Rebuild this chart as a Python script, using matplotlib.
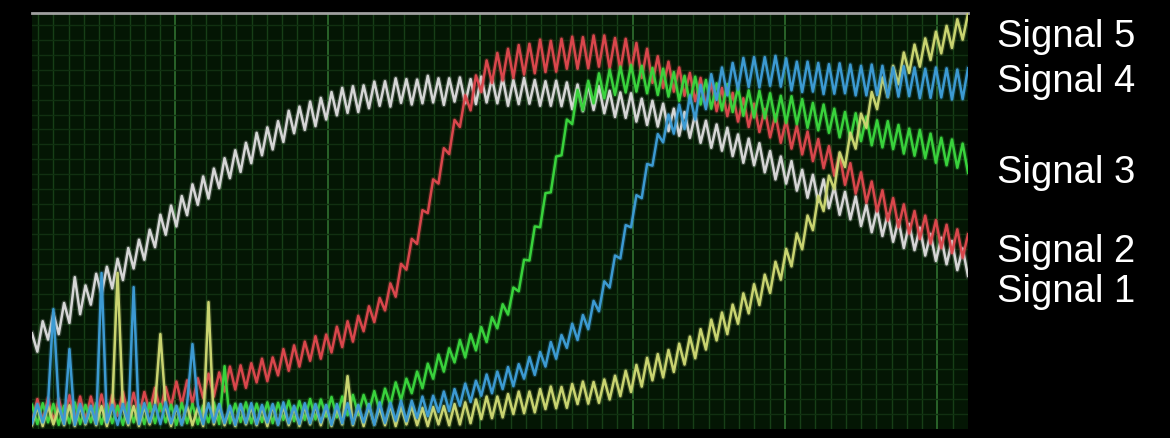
import numpy as np
import matplotlib
matplotlib.use("Agg")
import matplotlib.pyplot as plt

# sampling of the trace (time axis in grid units, 10 units per major division)
T0 = 0.59
DT = 0.351

signal_1 = [
    23.0, 18.6, 25.9, 21.5, 27.8, 22.8, 30.3, 25.5, 36.5, 27.6,
    34.5, 29.9, 37.3, 32.4, 39.0, 33.8, 40.9, 35.8, 43.5, 38.6,
    45.5, 40.7, 47.9, 43.7, 51.5, 46.7, 53.7, 48.7, 56.0, 51.4,
    58.8, 53.9, 60.7, 55.4, 62.6, 57.9, 65.1, 60.3, 67.0, 61.8,
    68.8, 63.9, 71.2, 65.8, 72.5, 67.2, 74.0, 69.0, 76.5, 71.1,
    77.5, 71.9, 78.7, 72.8, 79.6, 74.4, 81.0, 75.4, 82.0, 76.0,
    82.4, 76.2, 82.6, 77.1, 83.5, 77.7, 83.6, 77.5, 84.3, 78.4,
    84.1, 78.0, 84.0, 78.3, 84.9, 78.5, 84.3, 77.9, 84.3, 78.7,
    84.5, 78.3, 84.1, 78.1, 84.7, 78.5, 84.3, 78.3, 84.4, 77.7,
    83.9, 78.1, 84.4, 78.2, 83.9, 77.7, 83.6, 77.7, 83.7, 77.6,
    83.3, 76.9, 82.8, 76.4, 82.7, 76.7, 82.4, 75.9, 81.3, 75.0,
    80.9, 74.8, 80.7, 73.9, 79.4, 73.1, 78.9, 72.7, 78.2, 71.6,
    77.0, 70.5, 76.2, 70.0, 75.7, 68.8, 74.1, 67.6, 73.2, 66.9,
    72.4, 65.6, 70.8, 64.0, 69.8, 63.4, 68.7, 61.7, 66.8, 60.0,
    65.5, 59.0, 64.4, 57.3, 62.3, 55.6, 61.1, 54.6, 60.0, 53.1,
    58.2, 51.5, 57.0, 50.4, 55.9, 48.8, 53.9, 47.3, 52.8, 46.4,
    51.7, 45.0, 50.2, 43.5, 49.3, 43.0, 48.4, 41.7, 46.9, 40.4,
    46.0, 39.6, 45.2, 38.2, 43.4, 36.8,
]

signal_2 = [
    1.7, 7.2, 2.1, 7.5, 1.8, 7.3, 2.4, 8.1, 2.3, 7.8,
    2.1, 7.8, 2.9, 8.3, 2.6, 8.1, 3.2, 8.9, 3.2, 8.7,
    3.0, 8.9, 4.2, 9.9, 4.4, 10.1, 5.4, 11.4, 5.9, 11.7,
    6.2, 12.2, 7.5, 13.3, 7.8, 13.6, 9.0, 15.0, 9.5, 15.3,
    9.9, 15.8, 11.2, 16.9, 11.5, 17.2, 12.9, 19.2, 14.0, 20.1,
    15.0, 21.0, 16.4, 22.3, 16.9, 22.7, 18.4, 24.6, 19.7, 25.9,
    21.0, 27.2, 23.5, 29.5, 25.7, 31.5, 28.5, 35.0, 31.8, 39.7,
    38.3, 45.7, 44.5, 52.6, 51.9, 60.0, 59.0, 67.5, 66.1, 74.3,
    72.6, 80.2, 76.6, 85.0, 81.0, 88.6, 83.2, 90.4, 83.8, 91.4,
    84.4, 92.3, 85.2, 92.6, 85.5, 93.6, 85.8, 93.3, 85.9, 93.8,
    86.6, 94.3, 86.6, 94.2, 86.7, 94.6, 87.1, 94.6, 86.7, 94.0,
    86.3, 93.8, 86.0, 92.8, 84.4, 91.4, 83.2, 89.6, 82.0, 88.3,
    81.1, 86.9, 80.1, 85.6, 78.8, 84.4, 77.6, 83.2, 76.4, 82.0,
    75.2, 80.8, 73.9, 79.5, 72.6, 78.2, 71.4, 76.9, 70.1, 75.6,
    68.8, 74.3, 67.4, 72.9, 66.0, 71.5, 64.4, 69.7, 62.7, 68.0,
    60.9, 66.0, 58.7, 63.9, 56.6, 61.7, 54.4, 59.5, 52.3, 57.4,
    50.1, 55.5, 48.5, 54.0, 47.0, 52.4, 45.7, 51.3, 44.6, 50.2,
    43.5, 49.1, 42.3, 48.0, 41.2, 46.8,
]

signal_3 = [
    5.8, 1.2, 6.2, 1.6, 6.0, 1.0, 5.6, 1.4, 6.4, 1.2,
    5.8, 1.6, 6.2, 1.2, 6.0, 1.4, 5.6, 1.0, 6.4, 1.6,
    5.8, 1.2, 6.2, 1.4, 6.0, 1.6, 5.8, 1.0, 6.2, 1.4,
    6.0, 1.2, 5.6, 1.6, 6.4, 1.2, 15.1, 1.4, 6.1, 1.7,
    6.4, 1.4, 6.1, 1.7, 6.4, 1.4, 6.3, 2.2, 6.8, 1.9,
    6.7, 2.2, 7.2, 2.3, 7.1, 3.0, 7.7, 2.8, 7.8, 3.3,
    8.2, 3.4, 8.2, 4.3, 9.1, 4.3, 9.7, 5.8, 11.2, 6.9,
    12.1, 8.6, 13.8, 9.8, 15.7, 12.1, 17.9, 13.8, 19.4, 16.0,
    21.4, 17.2, 22.8, 18.9, 24.5, 20.9, 26.9, 24.2, 30.0, 27.5,
    34.0, 33.1, 40.7, 40.5, 48.7, 48.5, 56.7, 56.9, 65.5, 65.8,
    74.4, 73.3, 81.5, 76.6, 83.7, 78.3, 85.5, 79.5, 86.4, 80.3,
    87.1, 80.9, 87.5, 81.1, 87.3, 80.7, 86.8, 80.3, 86.6, 79.9,
    85.8, 78.9, 84.9, 78.4, 84.7, 78.0, 83.9, 77.0, 83.1, 76.6,
    82.9, 76.2, 82.1, 75.3, 81.4, 74.9, 81.3, 74.7, 80.7, 73.9,
    80.1, 73.6, 80.0, 73.3, 79.3, 72.4, 78.4, 71.8, 78.0, 71.2,
    77.0, 70.1, 76.2, 69.6, 75.9, 69.2, 75.1, 68.2, 74.2, 67.7,
    74.0, 67.3, 73.1, 66.2, 72.2, 65.7, 71.9, 65.1, 71.0, 64.0,
    70.0, 63.4, 69.6, 62.8, 68.6, 61.6,
]

signal_4 = [
    1.4, 6.0, 1.6, 6.2, 28.8, 5.8, 1.2, 19.2, 1.0, 6.0,
    1.4, 5.6, 1.2, 37.5, 1.6, 5.8, 1.0, 6.0, 1.4, 34.1,
    1.2, 6.2, 1.6, 5.8, 1.2, 6.4, 1.4, 5.6, 1.0, 6.0,
    20.4, 5.8, 1.2, 6.2, 1.6, 6.0, 1.4, 5.6, 1.0, 6.0,
    1.4, 6.2, 1.2, 5.8, 1.6, 6.0, 1.0, 6.4, 1.4, 5.6,
    1.2, 6.2, 1.4, 6.0, 1.6, 5.8, 1.0, 6.0, 1.4, 6.2,
    1.2, 5.8, 1.6, 6.0, 1.0, 6.4, 1.5, 6.3, 2.0, 6.8,
    1.9, 6.8, 2.7, 7.8, 3.1, 8.0, 4.1, 9.0, 4.3, 9.6,
    5.6, 10.9, 6.5, 11.6, 8.0, 13.1, 8.6, 13.8, 9.6, 14.9,
    10.3, 15.6, 12.1, 17.3, 13.0, 18.5, 15.0, 20.9, 16.9, 22.6,
    19.5, 25.3, 21.4, 27.4, 24.0, 30.8, 28.3, 35.5, 34.0, 41.7,
    41.0, 49.0, 48.5, 56.2, 55.5, 63.7, 63.3, 70.9, 68.9, 75.6,
    71.0, 78.0, 72.1, 80.2, 74.4, 82.7, 76.9, 85.3, 79.1, 86.9,
    80.2, 88.0, 81.6, 89.2, 82.2, 89.4, 82.1, 89.4, 82.5, 89.7,
    82.3, 89.1, 81.4, 88.3, 81.0, 88.3, 81.1, 88.0, 80.5, 87.7,
    80.6, 87.9, 80.7, 87.6, 80.2, 87.3, 80.2, 87.6, 80.3, 87.3,
    79.8, 86.9, 79.9, 87.2, 80.0, 86.9, 79.5, 86.6, 79.6, 86.9,
    79.7, 86.7, 79.2, 86.4, 79.3, 86.7,
]

signal_5 = [
    0.9, 5.3, 0.7, 5.5, 1.1, 5.1, 0.9, 5.7, 0.7, 5.3,
    1.1, 5.1, 0.9, 5.5, 0.7, 5.3, 37.5, 5.1, 0.9, 5.5,
    0.7, 5.3, 1.1, 5.7, 22.8, 5.1, 0.7, 5.3, 1.1, 5.5,
    0.9, 5.1, 0.7, 30.5, 1.1, 5.5, 0.9, 5.1, 0.7, 5.7,
    1.1, 5.3, 0.9, 5.1, 0.7, 5.5, 1.1, 5.3, 0.9, 5.1,
    0.7, 5.5, 1.1, 5.7, 0.9, 5.3, 0.7, 5.1, 1.1, 12.7,
    0.9, 5.3, 0.7, 5.5, 1.1, 5.1, 0.9, 5.7, 0.7, 5.3,
    1.1, 5.5, 0.9, 5.1, 0.7, 5.3, 1.1, 5.5, 0.9, 6.0,
    1.1, 6.4, 1.4, 7.1, 2.4, 7.8, 2.6, 7.8, 2.8, 8.4,
    3.6, 9.0, 3.8, 9.0, 4.0, 9.6, 4.8, 10.2, 5.0, 10.1,
    5.1, 10.8, 6.0, 11.4, 6.1, 11.3, 6.3, 11.9, 7.1, 12.8,
    7.9, 14.0, 8.9, 15.4, 10.2, 17.1, 11.7, 18.0, 12.4, 19.0,
    13.7, 20.5, 15.5, 22.2, 17.0, 24.0, 19.1, 26.3, 21.3, 28.0,
    22.8, 29.9, 25.3, 32.6, 27.8, 34.8, 29.8, 37.1, 32.7, 40.2,
    35.9, 43.3, 39.1, 47.0, 43.2, 51.3, 47.8, 56.0, 52.4, 60.9,
    57.7, 66.5, 63.0, 71.2, 67.4, 75.8, 72.4, 81.0, 76.9, 84.5,
    79.8, 87.3, 82.9, 90.5, 85.6, 92.4, 87.1, 93.9, 88.7, 95.5,
    90.3, 96.9, 91.6, 98.5, 93.6, 99.8,
]

labels = ["Signal 1", "Signal 2", "Signal 3", "Signal 4", "Signal 5"]
colors = ["#d6d6d6", "#d9474c", "#39d23c", "#3c9ad2", "#c9d470"]
label_baselines = [302, 262, 183, 92, 47]   # pixel rows of the label baselines

series = [signal_1, signal_2, signal_3, signal_4, signal_5]
t = T0 + DT * np.arange(len(signal_1))

fig = plt.figure(figsize=(11.7, 4.39), dpi=100, facecolor="black")
ax = fig.add_axes([32 / 1170, 9 / 439, 936 / 1170, 416 / 439])
ax.set_facecolor("#041604")

# oscilloscope style grid
ax.set_xticks(np.arange(10, 61, 10))
ax.set_xticks(np.arange(1, 62, 1), minor=True)
ax.set_yticks(np.arange(3.6, 100, 3.6))
ax.grid(which="minor", axis="x", color="#173f17", lw=1.0)
ax.grid(which="major", axis="x", color="#2c6a2c", lw=1.3)
ax.grid(which="major", axis="y", color="#113011", lw=1.0)
ax.tick_params(which="both", length=0, labelbottom=False, labelleft=False)
ax.set_axisbelow(True)

for side in ["left", "right", "bottom"]:
    ax.spines[side].set_visible(False)
ax.spines["top"].set_color("#a0a0a0")
ax.spines["top"].set_linewidth(2)

order = [2, 3, 4, 6, 5]
for vals, col, z in zip(series, colors, order):
    # soft halo, the traces look a bit blurred on the scope capture
    ax.plot(t, vals, color=col, lw=3.6, alpha=0.22, zorder=z)
    ax.plot(t, vals, color=col, lw=1.8, zorder=z, solid_joinstyle="round")

ax.set_xlim(T0, T0 + DT * (len(signal_1) - 1))
ax.set_ylim(0, 100)

for lab, base in zip(labels, label_baselines):
    fig.text(997 / 1170, 1 - base / 439, lab, color="white", fontsize=27.5,
             family="Liberation Sans", va="baseline", ha="left")

fig.savefig("out.png", dpi=100, facecolor="black")
